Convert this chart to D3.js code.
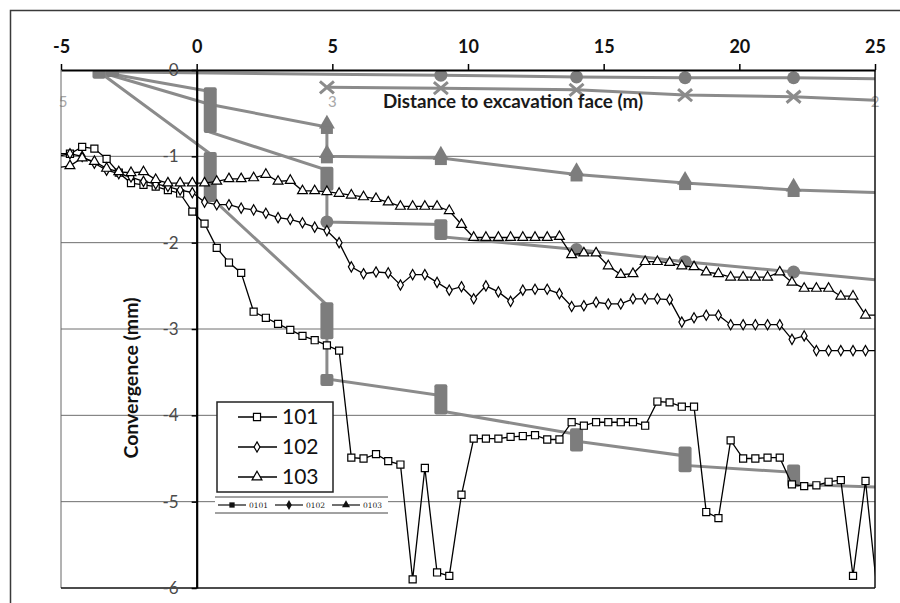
<!DOCTYPE html>
<html>
<head>
<meta charset="utf-8">
<script src="https://cdn.jsdelivr.net/npm/d3@7"></script>
<style>
  body { margin: 0; background: #fff; }
  svg { display: block; }
</style>
</head>
<body>
<svg id="chart" width="900" height="603"></svg>
<script>
// distance to excavation face (m) of each reading, shared by the three sections
const distance = [-5.12, -4.67, -4.22, -3.77, -3.32, -2.87, -2.42, -1.96, -1.51, -1.06, -0.61, -0.16,
  0.29, 0.74, 1.19, 1.64, 2.10, 2.55, 3.00, 3.45, 3.90, 4.35, 4.80, 5.25, 5.70, 6.15, 6.61, 7.06,
  7.51, 7.96, 8.41, 8.86, 9.31, 9.76, 10.21, 10.66, 11.12, 11.57, 12.02, 12.47, 12.92, 13.37, 13.82,
  14.27, 14.72, 15.17, 15.63, 16.08, 16.53, 16.98, 17.43, 17.88, 18.33, 18.78, 19.23, 19.68, 20.14,
  20.59, 21.04, 21.49, 21.94, 22.39, 22.84, 23.29, 23.74, 24.19, 24.65, 25.10];

const conv101 = [-0.97, -0.97, -0.89, -0.91, -1.03, -1.19, -1.31, -1.33, -1.35, -1.39, -1.43, -1.64,
  -1.78, -2.06, -2.23, -2.35, -2.80, -2.87, -2.94, -3.01, -3.08, -3.13, -3.19, -3.25, -4.49, -4.50,
  -4.45, -4.53, -4.57, -5.90, -4.61, -5.82, -5.86, -4.92, -4.27, -4.27, -4.27, -4.25, -4.24, -4.23,
  -4.28, -4.28, -4.08, -4.12, -4.08, -4.08, -4.08, -4.08, -4.12, -3.84, -3.85, -3.90, -3.90, -5.12,
  -5.19, -4.29, -4.50, -4.50, -4.49, -4.49, -4.80, -4.82, -4.81, -4.77, -4.75, -5.86, -4.76, -6.10];

const conv102 = [-1.00, -0.97, -1.00, -1.08, -1.16, -1.20, -1.24, -1.29, -1.32, -1.35, -1.39, -1.42,
  -1.53, -1.56, -1.56, -1.60, -1.62, -1.66, -1.71, -1.73, -1.77, -1.82, -1.86, -2.00, -2.28, -2.36,
  -2.34, -2.35, -2.49, -2.37, -2.37, -2.46, -2.55, -2.51, -2.65, -2.50, -2.57, -2.68, -2.55, -2.54,
  -2.54, -2.59, -2.74, -2.73, -2.69, -2.71, -2.71, -2.65, -2.65, -2.65, -2.66, -2.92, -2.87, -2.84,
  -2.84, -2.95, -2.95, -2.95, -2.95, -2.95, -3.12, -3.08, -3.25, -3.25, -3.25, -3.25, -3.25, -3.25];

const conv103 = [-1.13, -1.11, -1.02, -1.06, -1.14, -1.18, -1.19, -1.18, -1.27, -1.31, -1.31, -1.31,
  -1.31, -1.29, -1.26, -1.26, -1.25, -1.21, -1.29, -1.28, -1.40, -1.40, -1.41, -1.43, -1.45, -1.47,
  -1.49, -1.53, -1.58, -1.58, -1.58, -1.58, -1.63, -1.79, -1.94, -1.94, -1.94, -1.94, -1.94, -1.94,
  -1.94, -1.93, -2.14, -2.12, -2.12, -2.27, -2.37, -2.36, -2.22, -2.22, -2.23, -2.27, -2.28, -2.34,
  -2.36, -2.40, -2.40, -2.40, -2.40, -2.34, -2.46, -2.53, -2.53, -2.53, -2.62, -2.62, -2.84, -2.84];

const seriesNames = ["101", "102", "103"];

// underlying grey chart (pasted behind): [distance, convergence]
const faceSq = [[-3.6, -0.02], [0.5, -0.97], [0.5, -1.47], [4.8, -2.72], [4.8, -3.58], [9, -3.77],
  [9, -3.95], [14, -4.22], [14, -4.3], [18, -4.47], [18, -4.58], [22, -4.66], [22, -4.8], [25, -4.83]];
const faceDia = [[-3.6, -0.02], [0.5, -0.25], [0.5, -0.72], [4.8, -1.16], [4.8, -1.76], [9, -1.79],
  [9, -1.93], [14, -2.08], [18, -2.22], [22, -2.34], [25, -2.43]];
const faceTri = [[-3.6, -0.02], [0.5, -0.4], [4.8, -0.66], [4.8, -1.0], [9, -1.02], [14, -1.21],
  [18, -1.31], [22, -1.39], [25, -1.42]];
const faceCirc = [[-3.6, -0.02], [4.8, -0.05], [9, -0.06], [14, -0.08], [18, -0.09], [22, -0.09], [25, -0.1]];
const faceCross = [[4.8, -0.2], [9, -0.21], [14, -0.23], [18, -0.29], [22, -0.31], [25, -0.35]];
// stacked marker blocks [distance, top, bottom]
const faceBars = [[-3.6, 0, -0.1], [-3.1, 0, -0.08], [0.5, -0.2, -0.73], [0.5, -0.95, -1.53],
  [4.8, -1.12, -1.4], [4.8, -2.69, -3.12], [4.8, -3.52, -3.66], [9, -1.73, -1.97], [9, -3.64, -3.99],
  [14, -4.15, -4.42], [18, -4.36, -4.66], [22, -4.57, -4.83]];
const faceTriMarks = [[4.8, -0.66], [4.8, -1.0], [9, -1.02], [14, -1.21], [18, -1.31], [22, -1.39]];
const faceDots = [[9, -0.06], [14, -0.08], [18, -0.09], [22, -0.09], [14, -2.08], [18, -2.22],
  [22, -2.34], [4.8, -1.76]];
const faceCrossMarks = [[4.8, -0.2], [9, -0.21], [14, -0.23], [18, -0.29], [22, -0.31]];
const faceLegend = ["0101", "0102", "0103"];
const faceAxisLabels = [[-5, "5"], [5, "3"], [25, "2"]];

const xTicks = [-5, 0, 5, 10, 15, 20, 25];
const yTicks = [0, -1, -2, -3, -4, -5, -6];
const gridValues = [-1, -2, -3, -4, -5];

const svg = d3.select("#chart");
const x = d3.scaleLinear().domain([-5, 25]).range([61, 875]);
const y = d3.scaleLinear().domain([0, -6]).range([70, 588]);

const GREY = "#8b8b8b";
const BOLD = "Lato, 'Open Sans', sans-serif";

// outer frame
svg.append("rect")
  .attr("x", 10.5).attr("y", 10.5).attr("width", 960).attr("height", 660)
  .attr("fill", "none").attr("stroke", "#3a3a3a").attr("stroke-width", 1.5);

svg.append("defs").append("clipPath").attr("id", "plot")
  .append("rect").attr("x", x(-5)).attr("y", y(0)).attr("width", x(25) - x(-5)).attr("height", y(-6) - y(0));

// gridlines
svg.append("g").selectAll("line").data(gridValues).join("line")
  .attr("x1", x(-5)).attr("x2", x(25))
  .attr("y1", (d) => y(d)).attr("y2", (d) => y(d))
  .attr("stroke", "#6e6e6e").attr("stroke-width", 1);

// grey chart underneath
const grey = svg.append("g").attr("clip-path", "url(#plot)");
const faceLine = d3.line().x((d) => x(d[0])).y((d) => y(d[1]));

grey.selectAll(".faceLine").data([faceCirc, faceCross, faceTri, faceDia, faceSq]).join("path")
  .attr("class", "faceLine")
  .attr("d", faceLine)
  .attr("fill", "none").attr("stroke", GREY).attr("stroke-width", 3);

grey.selectAll(".faceBar").data(faceBars).join("rect")
  .attr("class", "faceBar")
  .attr("x", (d) => x(d[0]) - 6.5).attr("width", 13)
  .attr("y", (d) => y(d[1])).attr("height", (d) => y(d[2]) - y(d[1]))
  .attr("rx", 2).attr("fill", "#7d7d7d");

grey.selectAll(".faceTri").data(faceTriMarks).join("g")
  .attr("class", "faceTri")
  .attr("transform", (d) => `translate(${x(d[0])},${y(d[1])})`)
  .call((g) => {
    g.append("path").attr("d", d3.symbol(d3.symbolTriangle, 110)()).attr("transform", "translate(0,-3)").attr("fill", "#7d7d7d");
    g.append("rect").attr("x", -6).attr("y", 0).attr("width", 12).attr("height", 7).attr("fill", "#7d7d7d");
  });

grey.selectAll(".faceDot").data(faceDots).join("circle")
  .attr("class", "faceDot")
  .attr("cx", (d) => x(d[0])).attr("cy", (d) => y(d[1])).attr("r", 6.5)
  .attr("fill", "#7d7d7d");

grey.selectAll(".faceCross").data(faceCrossMarks).join("path")
  .attr("class", "faceCross")
  .attr("transform", (d) => `translate(${x(d[0])},${y(d[1])})`)
  .attr("d", "M-7,-6L7,6M-7,6L7,-6")
  .attr("stroke", GREY).attr("stroke-width", 3).attr("fill", "none");

svg.append("g").selectAll("text").data(faceAxisLabels).join("text")
  .attr("x", (d) => x(d[0]) + (d[0] === -5 ? 2 : 0)).attr("y", 107)
  .attr("text-anchor", "middle")
  .attr("font-family", BOLD).attr("font-size", 15).attr("fill", "#a8a8a8")
  .text((d) => d[1]);

svg.append("text")
  .attr("x", 513).attr("y", 108).attr("text-anchor", "middle")
  .attr("font-family", BOLD).attr("font-weight", "bold").attr("font-size", 18.8).attr("fill", "#1a1a1a")
  .text("Distance to excavation face (m)");

// plot border
svg.append("line").attr("x1", x(-5)).attr("x2", x(-5)).attr("y1", y(0)).attr("y2", y(-6))
  .attr("stroke", "#666").attr("stroke-width", 1);
svg.append("line").attr("x1", x(25)).attr("x2", x(25)).attr("y1", y(0)).attr("y2", y(-6))
  .attr("stroke", "#111").attr("stroke-width", 1.5);
svg.append("line").attr("x1", x(-5)).attr("x2", x(25)).attr("y1", y(-6)).attr("y2", y(-6))
  .attr("stroke", "#111").attr("stroke-width", 1.5);

// top axis
const xAxis = svg.append("g")
  .attr("transform", `translate(0,${y(0)})`)
  .call(d3.axisTop(x).tickValues(xTicks).tickSize(6).tickSizeOuter(0).tickPadding(11).tickFormat((d) => String(d)));
xAxis.select(".domain").attr("stroke", "#000").attr("stroke-width", 2.2);
xAxis.selectAll(".tick line").attr("stroke", "#000").attr("stroke-width", 1.5);
xAxis.selectAll("text")
  .attr("font-family", BOLD).attr("font-weight", "bold").attr("font-size", 18).attr("fill", "#111");

// y axis at the face (distance 0)
const yAxis = svg.append("g")
  .attr("transform", `translate(${x(0)},0)`)
  .call(d3.axisLeft(y).tickValues(yTicks).tickSize(5).tickSizeOuter(0).tickPadding(13).tickFormat((d) => String(d)));
yAxis.select(".domain").attr("stroke", "#000").attr("stroke-width", 2.2);
yAxis.selectAll(".tick line").attr("stroke", "#000").attr("stroke-width", 1.5);
yAxis.selectAll("text")
  .attr("font-family", BOLD).attr("font-size", 17).attr("fill", "#4a4a4a");

svg.append("text")
  .attr("transform", "translate(138,378) rotate(-90)")
  .attr("text-anchor", "middle")
  .attr("font-family", BOLD).attr("font-weight", "bold").attr("font-size", 19.5).attr("fill", "#111")
  .text("Convergence (mm)");

// monitored sections
const symbols = {
  "101": d3.symbol(d3.symbolSquare, 50),
  "102": d3.symbol(d3.symbolDiamond, 30),
  "103": d3.symbol(d3.symbolTriangle, 42),
};
const sections = [
  { name: seriesNames[0], values: conv101 },
  { name: seriesNames[1], values: conv102 },
  { name: seriesNames[2], values: conv103 },
];

const plot = svg.append("g").attr("clip-path", "url(#plot)");
const sectionLine = d3.line().x((d, i) => x(distance[i])).y((d) => y(d));

const groups = plot.selectAll(".section").data(sections).join("g").attr("class", "section");
groups.append("path")
  .attr("d", (d) => sectionLine(d.values))
  .attr("fill", "none").attr("stroke", "#000").attr("stroke-width", 1.3);
groups.each(function (s) {
  const pts = s.values.map((v, i) => [distance[i], v]).filter((p) => p[0] >= -5 && p[0] <= 25);
  d3.select(this).selectAll("path.mark").data(pts).join("path")
    .attr("class", "mark")
    .attr("transform", (p) => `translate(${x(p[0])},${y(p[1])})`)
    .attr("d", symbols[s.name]())
    .attr("fill", "#fff").attr("stroke", "#000").attr("stroke-width", 1.2);
});

// legend
const legend = svg.append("g");
legend.append("rect")
  .attr("x", 217).attr("y", 402).attr("width", 116).attr("height", 90)
  .attr("fill", "#fff").attr("stroke", "#222").attr("stroke-width", 1.5);
const items = legend.selectAll(".item").data(seriesNames).join("g")
  .attr("class", "item")
  .attr("transform", (d, i) => `translate(0,${417 + i * 30})`);
items.append("line").attr("x1", 238).attr("x2", 277).attr("stroke", "#000").attr("stroke-width", 1.3);
items.append("path").attr("transform", "translate(257,0)")
  .attr("d", (d) => symbols[d]())
  .attr("fill", "#fff").attr("stroke", "#000").attr("stroke-width", 1.2);
items.append("text").attr("x", 282).attr("y", 7)
  .attr("font-family", BOLD).attr("font-size", 21).attr("fill", "#111")
  .text((d) => d);

// legend of the grey chart
const faceLeg = svg.append("g");
faceLeg.append("rect").attr("x", 215).attr("y", 497).attr("width", 173).attr("height", 16).attr("fill", "#fff");
faceLeg.selectAll("line.rule").data([497, 513]).join("line").attr("class", "rule")
  .attr("x1", 215).attr("x2", 388).attr("y1", (d) => d).attr("y2", (d) => d)
  .attr("stroke", "#444").attr("stroke-width", 1);
const faceSyms = [d3.symbolSquare, d3.symbolDiamond, d3.symbolTriangle];
const fItems = faceLeg.selectAll(".fitem").data(faceLegend).join("g")
  .attr("class", "fitem")
  .attr("transform", (d, i) => `translate(${218 + i * 57},505)`);
fItems.append("line").attr("x1", 0).attr("x2", 28).attr("stroke", "#111").attr("stroke-width", 1.2);
fItems.append("path").attr("transform", "translate(14,0)")
  .attr("d", (d, i) => d3.symbol(faceSyms[i], 28)())
  .attr("fill", "#111");
fItems.append("text").attr("x", 31).attr("y", 3)
  .attr("font-family", "'DejaVu Serif', serif").attr("font-size", 7.5).attr("fill", "#222")
  .text((d) => d);
</script>
</body>
</html>
